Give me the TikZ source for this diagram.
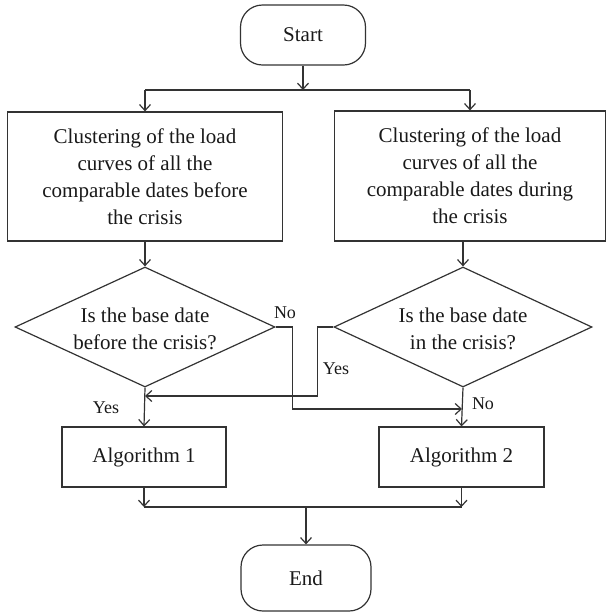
\documentclass[tikz,border=0pt]{standalone}
\usepackage{fontspec}
\setmainfont{Liberation Serif}
\usetikzlibrary{shapes.geometric,arrows.meta,calc}
\definecolor{ln}{rgb}{0.2,0.2,0.2}
\definecolor{tx}{rgb}{0.1,0.1,0.1}
\begin{document}
\begin{tikzpicture}[x=1pt,y=-1pt,
  every node/.style={text=tx},
  txt/.style={font=\fontsize{21}{27}\selectfont,align=center},
  lab/.style={font=\fontsize{18}{22}\selectfont,inner sep=0pt},
  term/.style={draw=ln,line width=1.2pt,rounded corners=22pt,inner sep=0pt,txt},
  procbox/.style={draw=ln,line width=1.2pt,inner sep=0pt,txt},
  dia/.style={draw=ln,line width=1.2pt,diamond,inner sep=0pt,minimum width=260pt,minimum height=120pt},
  link/.style={draw=ln,line width=1.2pt},
  arr/.style={link,-{Straight Barb[length=6pt,width=11pt]}}]
\useasboundingbox (0,0) rectangle (607,614);
% nodes
\node[term,minimum width=125pt,minimum height=60pt] (start) at (303,35) {Start};
\node[procbox,minimum width=275pt,minimum height=129pt] (box1) at (145,176.5)
  {Clustering of the load\\curves of all the\\comparable dates before\\the crisis};
\node[procbox,minimum width=271pt,minimum height=130pt] (box2) at (470,176)
  {Clustering of the load\\curves of all the\\comparable dates during\\the crisis};
\node[dia] (d1) at (145,327) {};
\node[txt,inner sep=0pt] (t1) at (145,329) {Is the base date\\before the crisis?};
\node[dia,minimum width=258pt] (d2) at (463,327) {};
\node[txt,inner sep=0pt] (t2) at (463,329) {Is the base date\\in the crisis?};
\node[procbox,minimum width=164pt,minimum height=60pt] (alg1) at (144,457) {Algorithm 1};
\node[procbox,minimum width=165pt,minimum height=60pt] (alg2) at (461.5,457) {Algorithm 2};
\node[term,minimum width=130pt,minimum height=66pt] (end) at (306,578) {End};
% coordinates
\coordinate (s) at (303,90);
\coordinate (j) at (306,507);
\coordinate (m1) at (145,396);
\coordinate (m2) at (462,409);
% top fork
\draw[arr] (start.south) -- (s);
\draw[link] (box1.north |- s) -- (box2.north |- s);
\draw[arr] (box1.north |- s) -- (box1.north);
\draw[arr] (box2.north |- s) -- (box2.north);
% boxes to decisions
\draw[arr] (d1.north |- box1.south) -- (d1.north);
\draw[arr] (d2.north |- box2.south) -- (d2.north);
% decision outputs
\draw[arr] (d1.south) -- (alg1.north);
\draw[arr] (d2.south) -- (alg2.north);
\draw[arr] (d1.east) -- ++(17,0) |- (m2);
\draw[arr] (d2.west) -- ++(-16,0) |- (m1);
% labels
\node[lab] (no1) at (285,313) {No};
\node[lab] (yes2) at (336,369) {Yes};
\node[lab] (yes1) at (106,408) {Yes};
\node[lab] (no2) at (483,404) {No};
% bottom merge
\draw[arr] (alg1.south) -- (alg1.south |- j);
\draw[arr] (alg2.south) -- (alg2.south |- j);
\draw[link] (alg1.south |- j) -- (alg2.south |- j);
\draw[arr] (j) -- (end.north);
\end{tikzpicture}
\end{document}
